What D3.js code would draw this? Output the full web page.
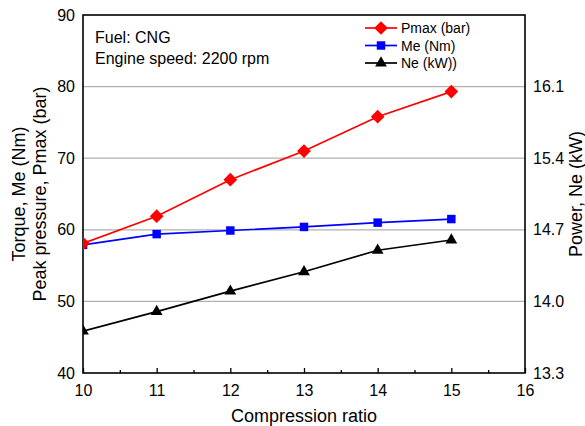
<!DOCTYPE html>
<html>
<head>
<meta charset="utf-8">
<script src="https://cdn.jsdelivr.net/npm/d3@7"></script>
<style>
  html, body { margin: 0; padding: 0; background: #fff; }
  svg { display: block; font-family: "Liberation Sans", Arial, sans-serif; }
</style>
</head>
<body>
<svg id="chart" width="585" height="426"></svg>
<script>
// ---- data ----
const compressionRatio = [10, 11, 12, 13, 14, 15];
const pmaxBar = [58.1, 61.9, 67.0, 71.0, 75.8, 79.3];
const torqueNm = [57.9, 59.4, 59.9, 60.4, 61.0, 61.5];
const powerKW = [13.71, 13.90, 14.10, 14.29, 14.50, 14.60];
const xTicks = [10, 11, 12, 13, 14, 15, 16];
const xMinorTicks = [10.5, 11.5, 12.5, 13.5, 14.5, 15.5];
const leftTicks = [40, 50, 60, 70, 80, 90];
const gridValues = [50, 60, 70, 80];
const rightTicks = [13.3, 14.0, 14.7, 15.4, 16.1];
const infoLines = ["Fuel: CNG", "Engine speed: 2200 rpm"];
const legendLabels = ["Pmax (bar)", "Me (Nm)", "Ne (kW))"];

// ---- layout ----
const L = 83, R = 525, T = 15, B = 373;
const svg = d3.select("#chart");

const x = d3.scaleLinear().domain([10, 16]).range([L, R]);
const yL = d3.scaleLinear().domain([40, 90]).range([B, T]);
const yR = d3.scaleLinear().domain([13.3, 16.8]).range([B, T]);

// clip
svg.append("defs").append("clipPath").attr("id", "plotclip")
  .append("rect").attr("x", L).attr("y", T).attr("width", R - L).attr("height", B - T);

// gridlines
svg.append("g").selectAll("line").data(gridValues).join("line")
  .attr("x1", L).attr("x2", R)
  .attr("y1", d => yL(d)).attr("y2", d => yL(d))
  .attr("stroke", "#b0b0b0").attr("stroke-width", 1.2);

// axes
const fontSize = 16;
const gx = svg.append("g").attr("transform", `translate(0,${B})`)
  .call(d3.axisBottom(x).tickValues(xTicks).tickSizeInner(-5).tickSizeOuter(0).tickPadding(12).tickFormat(d3.format("d")));
const gxm = svg.append("g").attr("transform", `translate(0,${B})`)
  .call(d3.axisBottom(x).tickValues(xMinorTicks).tickSizeInner(-3).tickSizeOuter(0).tickFormat(""));
const gl = svg.append("g").attr("transform", `translate(${L},0)`)
  .call(d3.axisLeft(yL).tickValues(leftTicks).tickSizeInner(0).tickSizeOuter(0).tickPadding(8).tickFormat(d3.format("d")));
const gr = svg.append("g").attr("transform", `translate(${R},0)`)
  .call(d3.axisRight(yR).tickValues(rightTicks).tickSizeInner(0).tickSizeOuter(0).tickPadding(8).tickFormat(d3.format(".1f")));

[gx, gxm, gl, gr].forEach(g => {
  g.select(".domain").remove();
  g.selectAll("line").attr("stroke", "#000").attr("stroke-width", 1.3);
  g.selectAll("text").attr("font-size", fontSize).attr("fill", "#000")
    .attr("font-family", "'Liberation Sans', Arial, sans-serif");
});

// frame
svg.append("rect").attr("x", L).attr("y", T).attr("width", R - L).attr("height", B - T)
  .attr("fill", "none").attr("stroke", "#000").attr("stroke-width", 1.6);

// series
const series = [
  { vals: pmaxBar, y: yL, color: "#ff0000", sym: d3.symbolDiamond2, size: 120 },
  { vals: torqueNm, y: yL, color: "#0000ff", sym: d3.symbolSquare, size: 72 },
  { vals: powerKW, y: yR, color: "#000000", sym: d3.symbolTriangle, size: 60 }
];
const plot = svg.append("g").attr("clip-path", "url(#plotclip)");
series.slice().reverse().forEach(s => {
  const pts = compressionRatio.map((c, i) => [x(c), s.y(s.vals[i])]);
  plot.append("path").attr("d", d3.line()(pts))
    .attr("fill", "none").attr("stroke", s.color).attr("stroke-width", 1.7);
});
series.slice().reverse().forEach(s => {
  plot.append("g").selectAll("path").data(compressionRatio).join("path")
    .attr("transform", (c, i) => `translate(${x(c)},${s.y(s.vals[i])})`)
    .attr("d", d3.symbol().type(s.sym).size(s.size))
    .attr("fill", s.color);
});

// info text
svg.append("g").selectAll("text").data(infoLines).join("text")
  .attr("x", 95).attr("y", (d, i) => 43 + i * 21)
  .attr("font-size", 16).attr("fill", "#000").text(d => d);

// legend
const lg = svg.append("g");
series.forEach((s, i) => {
  const yy = 28 + i * 17.5;
  lg.append("line").attr("x1", 365).attr("x2", 397).attr("y1", yy).attr("y2", yy)
    .attr("stroke", s.color).attr("stroke-width", 1.7);
  lg.append("path").attr("transform", `translate(381,${yy})`)
    .attr("d", d3.symbol().type(s.sym).size(s.size)).attr("fill", s.color);
  lg.append("text").attr("x", 401).attr("y", yy + 5).attr("font-size", 14)
    .attr("fill", "#000").text(legendLabels[i]);
});

// axis titles
const midY = (T + B) / 2;
svg.append("text").attr("transform", `translate(${(L + R) / 2},422)`)
  .attr("text-anchor", "middle").attr("font-size", 18).text("Compression ratio");
svg.append("text").attr("transform", `translate(25,${midY}) rotate(-90)`)
  .attr("text-anchor", "middle").attr("font-size", 18).text("Torque, Me (Nm)");
svg.append("text").attr("transform", `translate(46,${midY}) rotate(-90)`)
  .attr("text-anchor", "middle").attr("font-size", 18).text("Peak pressure, Pmax (bar)");
svg.append("text").attr("transform", `translate(582,${midY}) rotate(-90)`)
  .attr("text-anchor", "middle").attr("font-size", 18).text("Power, Ne (kW)");
</script>
</body>
</html>
